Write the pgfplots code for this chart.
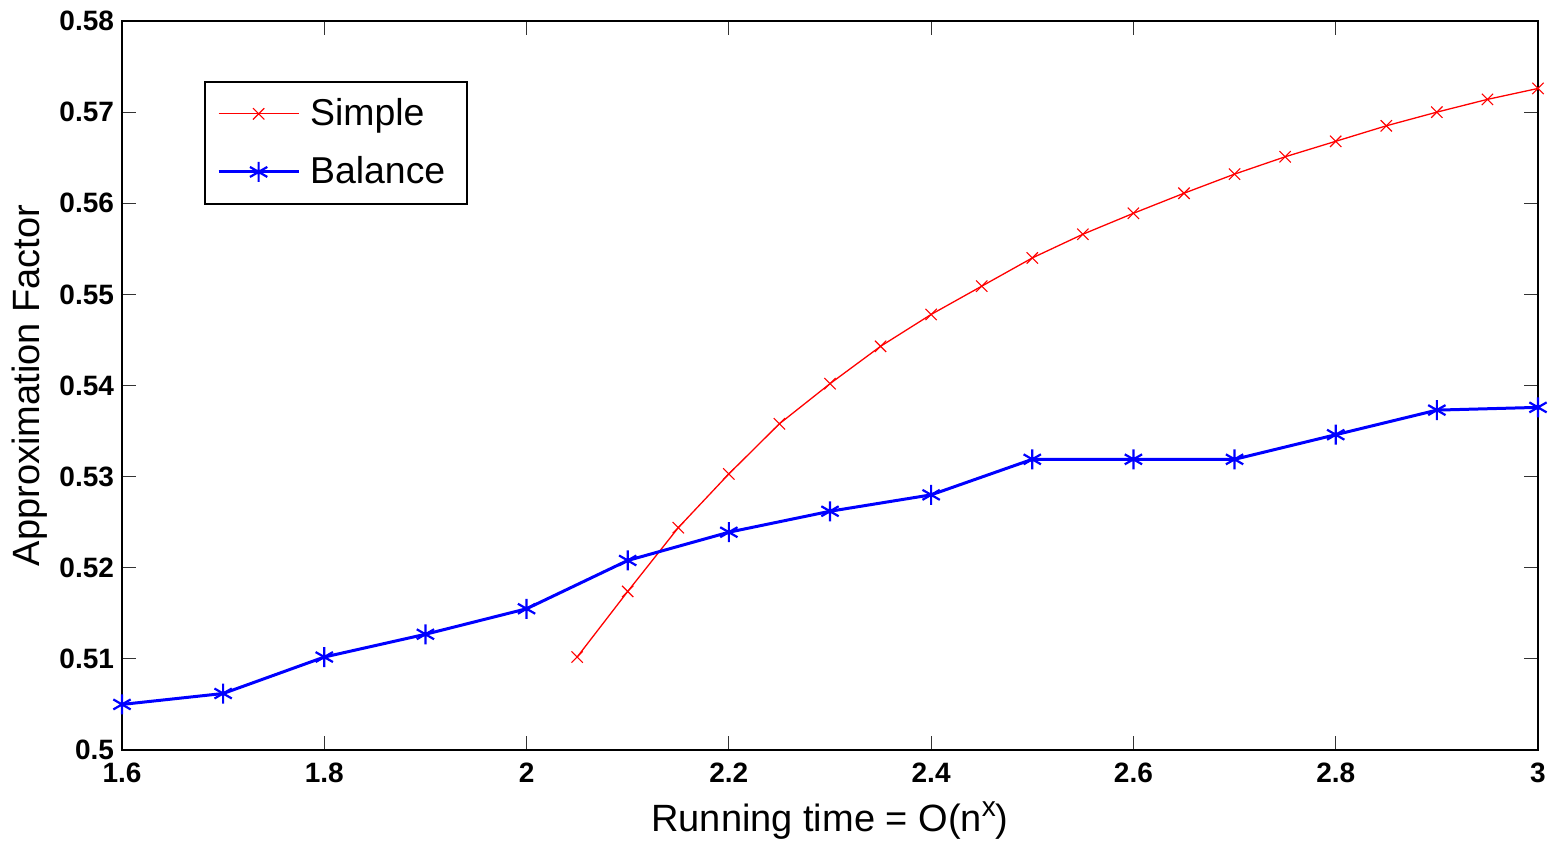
\documentclass[border=0pt]{standalone}
\usepackage{pgfplots}
\pgfplotsset{compat=1.18}
\usepackage{fontspec}
\setmainfont{Liberation Sans}
\begin{document}
\begin{tikzpicture}
\path[use as bounding box] (-61pt,-46pt) rectangle (713.5pt,375pt);
\begin{axis}[
  at={(0pt,0pt)}, anchor=south west,
  scale only axis,
  width=708pt, height=364.5pt,
  xmin=1.6, xmax=3, ymin=0.5, ymax=0.58,
  xtick={1.6,1.8,2,2.2,2.4,2.6,2.8,3},
  ytick={0.5,0.51,0.52,0.53,0.54,0.55,0.56,0.57,0.58},
  tick align=inside,
  major tick length=7pt,
  tick style={black!80, line width=0.6pt},
  axis line style={black, line width=1pt},
  /pgf/number format/assume math mode=true,
  /pgf/number format/fixed,
  /pgf/number format/precision=2,
  ticklabel style={font=\bfseries\fontsize{14}{16}\selectfont},
  xticklabel style={yshift=-3pt},
  yticklabel style={xshift=-0.5pt},
  xlabel={Running time = O(n\raisebox{0.75ex}{\fontsize{14}{14}\selectfont x})},
  ylabel={Approximation Factor},
  label style={font=\fontsize{19}{22}\selectfont},
  xlabel style={at={(axis description cs:0.5,-0.097)}, anchor=center},
  ylabel style={at={(axis description cs:-0.065,0.5)}, anchor=center, rotate=0},
  legend style={at={(rel axis cs:0.058,0.918)}, anchor=north west,
    draw=black, line width=1pt, font=\fontsize{18.7}{22}\selectfont,
    row sep=10pt, inner xsep=6pt, inner ysep=6.5pt,
    nodes={inner xsep=5pt}},
  legend cell align=left,
  legend image code/.code={
    \draw[mark repeat=2,mark phase=2] plot coordinates {(0pt,0pt) (20pt,0pt) (40pt,0pt)};},
]
\addplot[red, line width=0.65pt, mark=x, mark size=4pt, mark options={line width=0.55pt}] coordinates {
(2.05,0.5102) (2.10,0.5174) (2.15,0.5244) (2.20,0.5303) (2.25,0.5358)
(2.30,0.5402) (2.35,0.5443) (2.40,0.5478) (2.45,0.5509) (2.50,0.5540)
(2.55,0.5566) (2.60,0.5589) (2.65,0.5611) (2.70,0.5632) (2.75,0.5651)
(2.80,0.5668) (2.85,0.5685) (2.90,0.5700) (2.95,0.5714) (3.00,0.5726)};
\addlegendentry{Simple}
\addplot[blue, line width=1.5pt, mark=asterisk, mark size=5pt, mark options={line width=1.1pt}] coordinates {
(1.6,0.5050) (1.7,0.5062) (1.8,0.5102) (1.9,0.5127) (2.0,0.5155)
(2.1,0.5208) (2.2,0.5239) (2.3,0.5262) (2.4,0.5280) (2.5,0.5319)
(2.6,0.5319) (2.7,0.5319) (2.8,0.5346) (2.9,0.5373) (3.0,0.5376)};
\addlegendentry{Balance}
\end{axis}
\end{tikzpicture}
\end{document}
